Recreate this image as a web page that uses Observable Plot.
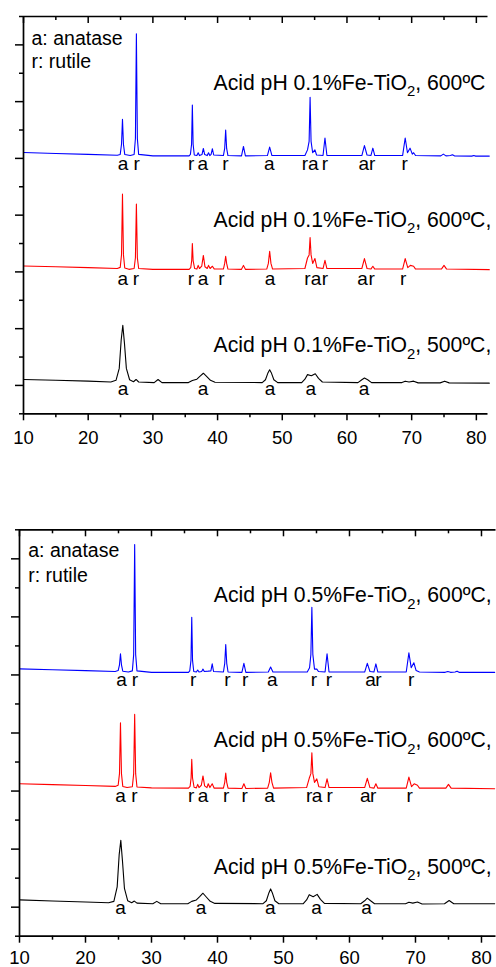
<!DOCTYPE html>
<html>
<head>
<meta charset="utf-8">
<script src="https://cdn.jsdelivr.net/npm/d3@7"></script>
<script src="https://cdn.jsdelivr.net/npm/@observablehq/plot@0.6"></script>
<style>
  html, body { margin: 0; padding: 0; background: #fff; }
  body { width: 496px; height: 967px; overflow: hidden; position: relative; font-family: "Liberation Sans", Arial, sans-serif; }
  #p1 { position: absolute; left: 0; top: 0; }
  #p2 { position: absolute; left: 0; top: 460px; }
  svg { overflow: hidden; }
</style>
</head>
<body>
<div id="p1"></div>
<div id="p2"></div>
<script>
// ---------- tick values ----------
const xMajorTicks = [10, 20, 30, 40, 50, 60, 70, 80];
const xMinorTicks = [15, 25, 35, 45, 55, 65, 75];
const yMajorTicks = [1, 3, 5, 7, 9, 11, 13];
const yMinorTicks = [0, 2, 4, 6, 8, 10, 12, 14];

// ---------- series: [2theta, offset intensity (a.u.)] ----------
// Panel 1 : 0.1% Fe-TiO2
const fe01_600_blue = [[10,9.21],[15,9.17],[20,9.14],[24.5,9.11],
 [24.95,9.14],[25.15,9.5],[25.3,10.38],[25.45,9.5],[25.65,9.14],[26.5,9.1],
 [27.1,9.14],[27.3,9.7],[27.45,13.39],[27.6,9.7],[27.8,9.14],[30,9.09],[35.6,9.09],
 [35.8,9.14],[35.98,9.5],[36.1,10.88],[36.22,9.5],[36.4,9.12],
 [36.8,9.1],[37.0,9.2],[37.2,9.1],[37.6,9.14],[37.8,9.35],[38.0,9.14],[38.4,9.1],[38.6,9.2],[38.8,9.1],[39.0,9.14],[39.2,9.34],[39.4,9.12],
 [40.9,9.1],[41.1,9.35],[41.25,10.0],[41.4,9.35],[41.6,9.1],
 [43.7,9.09],[44.0,9.42],[44.3,9.09],[47.7,9.1],[48.05,9.40],[48.4,9.1],
 [53.5,9.1],[53.9,9.3],[54.15,9.6],[54.3,11.15],[54.45,9.6],[54.7,9.2],[55.05,9.3],[55.3,9.12],
 [56.3,9.1],[56.6,9.72],[56.9,9.1],[62.3,9.1],[62.7,9.45],[63.1,9.12],[63.7,9.1],[64.0,9.36],[64.3,9.1],
 [68.6,9.1],[69.0,9.72],[69.35,9.2],[69.75,9.36],[70.1,9.15],[70.3,9.2],[70.6,9.1],
 [74.5,9.09],[74.9,9.15],[75.3,9.09],[76.0,9.1],[76.3,9.13],[76.6,9.09],[79.3,9.08],[79.6,9.1],[79.9,9.08],[82,9.08]];
const fe01_600_red = [[10,5.21],[15,5.18],[20,5.15],[24.5,5.12],
 [24.95,5.16],[25.15,5.6],[25.3,7.74],[25.45,5.6],[25.65,5.14],[26.3,5.09],
 [27.1,5.12],[27.3,5.5],[27.45,7.39],[27.6,5.5],[27.8,5.12],[30,5.09],[35.6,5.09],
 [35.85,5.15],[36.0,5.4],[36.1,6.0],[36.22,5.4],[36.45,5.12],
 [36.8,5.1],[37.0,5.23],[37.2,5.12],[37.55,5.2],[37.8,5.58],[38.05,5.18],[38.4,5.12],[38.6,5.23],[38.85,5.12],[39.2,5.2],[39.5,5.1],
 [40.9,5.1],[41.1,5.3],[41.25,5.55],[41.4,5.3],[41.6,5.1],
 [43.7,5.09],[44.0,5.23],[44.3,5.09],[47.6,5.1],[47.85,5.3],[48.05,5.73],[48.25,5.3],[48.5,5.1],
 [53.5,5.12],[53.9,5.49],[54.15,5.6],[54.3,6.21],[54.45,5.6],[54.7,5.3],[55.05,5.47],[55.35,5.15],
 [56.3,5.12],[56.6,5.41],[56.9,5.12],[62.3,5.12],[62.7,5.47],[63.1,5.12],[63.7,5.1],[64.0,5.2],[64.3,5.1],
 [68.6,5.1],[69.0,5.47],[69.4,5.15],[69.8,5.23],[70.3,5.2],[70.6,5.1],
 [74.6,5.1],[75.0,5.23],[75.4,5.1],[82,5.08]];
const fe01_500_black = [[10,1.21],[15,1.18],[20,1.15],[23.5,1.12],
 [24.3,1.18],[24.8,1.6],[25.1,2.6],[25.35,3.12],[25.6,2.5],[25.9,1.6],[26.4,1.2],[27.0,1.13],[27.4,1.21],[27.8,1.12],
 [30.2,1.1],[30.8,1.21],[31.4,1.1],[35.5,1.1],[36.1,1.17],[36.8,1.22],[37.3,1.33],[37.8,1.43],[38.3,1.32],[38.9,1.18],[39.6,1.11],
 [46.9,1.1],[47.4,1.2],[47.8,1.45],[48.05,1.55],[48.3,1.45],[48.7,1.2],[49.3,1.1],
 [53.0,1.1],[53.5,1.22],[53.9,1.38],[54.5,1.34],[55.1,1.41],[55.6,1.25],[56.2,1.12],
 [61.7,1.1],[62.3,1.2],[62.7,1.26],[63.2,1.2],[63.8,1.1],
 [68.5,1.1],[69.0,1.15],[69.6,1.12],[70.3,1.15],[71.0,1.09],[74.4,1.09],[75.1,1.15],[75.8,1.09],[82,1.08]];

// Panel 2 : 0.5% Fe-TiO2
const fe05_600_blue = [[10,9.21],[15,9.18],[20,9.15],[24.5,9.12],
 [24.95,9.15],[25.15,9.35],[25.3,9.73],[25.45,9.35],[25.65,9.13],[26.5,9.1],
 [27.1,9.14],[27.3,9.7],[27.45,13.49],[27.6,9.7],[27.8,9.14],[30,9.09],[35.6,9.09],
 [35.8,9.14],[35.98,9.5],[36.1,10.99],[36.22,9.5],[36.4,9.12],
 [36.8,9.1],[37.0,9.17],[37.2,9.1],[37.6,9.12],[37.8,9.2],[38.0,9.12],[38.6,9.13],[39.0,9.14],[39.2,9.38],[39.4,9.12],
 [40.9,9.1],[41.1,9.4],[41.25,10.05],[41.4,9.4],[41.6,9.1],
 [43.7,9.09],[44.0,9.40],[44.3,9.09],[47.7,9.1],[48.05,9.27],[48.4,9.1],
 [53.6,9.1],[53.95,9.25],[54.15,9.7],[54.3,11.33],[54.45,9.7],[54.7,9.2],[55.05,9.2],[55.3,9.12],
 [56.3,9.1],[56.6,9.73],[56.9,9.1],[62.3,9.1],[62.7,9.40],[63.1,9.12],[63.7,9.1],[64.0,9.38],[64.3,9.1],
 [68.6,9.1],[69.0,9.76],[69.35,9.25],[69.75,9.42],[70.1,9.15],[70.6,9.1],
 [74.5,9.09],[74.9,9.12],[75.3,9.09],[76.0,9.1],[76.3,9.13],[76.6,9.09],[82,9.09]];
const fe05_600_red = [[10,5.25],[15,5.22],[20,5.19],[24.5,5.16],
 [24.95,5.2],[25.15,5.6],[25.3,7.35],[25.45,5.6],[25.65,5.16],[26.3,5.12],
 [27.1,5.15],[27.3,5.6],[27.45,7.64],[27.6,5.6],[27.8,5.14],[30,5.11],[35.6,5.1],
 [35.85,5.16],[36.0,5.45],[36.1,6.09],[36.22,5.45],[36.45,5.13],
 [36.8,5.11],[37.0,5.23],[37.2,5.12],[37.55,5.2],[37.8,5.52],[38.05,5.18],[38.4,5.12],[38.6,5.25],[38.85,5.12],[39.2,5.25],[39.5,5.1],
 [40.9,5.1],[41.1,5.3],[41.25,5.62],[41.4,5.3],[41.6,5.1],
 [43.7,5.09],[44.0,5.25],[44.3,5.09],[47.6,5.1],[47.85,5.3],[48.05,5.63],[48.25,5.3],[48.5,5.1],
 [53.5,5.12],[53.9,5.44],[54.15,5.6],[54.3,6.32],[54.45,5.6],[54.7,5.3],[55.05,5.42],[55.35,5.15],
 [56.3,5.12],[56.6,5.42],[56.9,5.12],[62.3,5.12],[62.7,5.44],[63.1,5.12],[63.7,5.1],[64.0,5.25],[64.3,5.1],
 [68.6,5.1],[69.0,5.48],[69.4,5.15],[69.8,5.25],[70.3,5.2],[70.6,5.1],
 [72.5,5.1],[74.6,5.1],[75.0,5.23],[75.4,5.1],[82,5.08]];
const fe05_500_black = [[10,1.25],[15,1.21],[20,1.18],[23.5,1.15],
 [24.3,1.2],[24.8,1.7],[25.1,2.8],[25.35,3.30],[25.6,2.6],[25.9,1.65],[26.4,1.22],[27.0,1.15],[27.4,1.21],[27.8,1.14],
 [30.2,1.12],[30.8,1.2],[31.4,1.12],[35.5,1.12],[36.1,1.2],[36.8,1.25],[37.3,1.36],[37.8,1.48],[38.3,1.35],[38.9,1.2],[39.6,1.13],
 [46.9,1.12],[47.4,1.22],[47.8,1.5],[48.05,1.63],[48.3,1.5],[48.7,1.22],[49.3,1.12],
 [53.0,1.12],[53.5,1.25],[53.9,1.43],[54.5,1.36],[55.1,1.44],[55.6,1.27],[56.2,1.13],
 [61.7,1.12],[62.3,1.22],[62.7,1.31],[63.2,1.22],[63.8,1.12],
 [68.5,1.12],[69.0,1.17],[69.6,1.14],[70.3,1.18],[71.0,1.11],[74.4,1.12],[75.1,1.23],[75.8,1.12],[82,1.12]];

// ---------- phase labels under peaks: [2theta, letter] ----------
const fe01_600_blue_phases = [[25.4,"a"],[27.5,"r"],[35.9,"r"],[37.7,"a"],[41.2,"r"],[48.0,"a"],[53.5,"r"],[54.8,"a"],[56.6,"r"],[62.6,"a"],[63.9,"r"],[68.9,"r"]];
const fe01_600_red_phases  = [[25.35,"a"],[27.36,"r"],[35.86,"r"],[37.76,"a"],[40.6,"r"],[48.1,"a"],[53.9,"r"],[55.2,"a"],[56.6,"r"],[62.4,"a"],[63.8,"r"],[68.7,"r"]];
const fe01_500_black_phases = [[25.4,"a"],[37.76,"a"],[48.1,"a"],[54.4,"a"],[62.65,"a"]];
const fe05_600_blue_phases = [[25.45,"a"],[27.47,"r"],[36.3,"r"],[41.5,"r"],[44.2,"r"],[48.3,"a"],[54.6,"r"],[56.9,"r"],[63.2,"a"],[64.4,"r"],[69.35,"r"]];
const fe05_600_red_phases  = [[25.3,"a"],[27.4,"r"],[36.0,"r"],[37.8,"a"],[41.3,"r"],[44.1,"r"],[47.9,"a"],[53.9,"r"],[55.1,"a"],[57.0,"r"],[62.4,"a"],[63.6,"r"],[69.1,"r"]];
const fe05_500_black_phases = [[25.3,"a"],[37.5,"a"],[48.0,"a"],[55.0,"a"],[62.6,"a"]];

// ---------- text ----------
const legendLines = ["a: anatase", "r: rutile"];
const panel1Names = ["Acid pH 0.1%Fe-TiO\u2082, 600ºC", "Acid pH 0.1%Fe-TiO\u2082, 600ºC,", "Acid pH 0.1%Fe-TiO\u2082, 500ºC,"];
const panel2Names = ["Acid pH 0.5%Fe-TiO\u2082, 600ºC,", "Acid pH 0.5%Fe-TiO\u2082, 600ºC,", "Acid pH 0.5%Fe-TiO\u2082, 500ºC,"];
const colors = ["#0000ff", "#ff0000", "#000000"];

function panel(cfg) {
  const {series, phases, names, phaseY, nameY, nameX, legendX, legendY, xMax,
         width, height, marginTop, marginBottom, marginLeft, marginRight, tickPadding} = cfg;
  const marks = [];
  series.forEach((s, i) => {
    marks.push(Plot.line(s, {x: d => d[0], y: d => d[1], stroke: colors[i], strokeWidth: 1.1}));
  });
  phases.forEach((p, i) => {
    marks.push(Plot.text(p, {x: d => d[0], y: phaseY[i], text: d => d[1], fontSize: 19, lineAnchor: "bottom", fill: "#000"}));
  });
  names.forEach((n, i) => {
    marks.push(Plot.text([n], {x: nameX, y: nameY[i], text: d => d, fontSize: 21.2, textAnchor: "start", lineAnchor: "bottom", fill: "#000", className: "series-name"}));
  });
  marks.push(Plot.text(legendLines, {x: legendX, y: (d, i) => legendY[i], text: d => d, fontSize: 19.5, textAnchor: "start", lineAnchor: "bottom", fill: "#000"}));
  // frame
  marks.push(Plot.ruleY([0, 14], {stroke: "#000", strokeWidth: 1.7}));
  marks.push(Plot.ruleX([10], {stroke: "#000", strokeWidth: 1.7}));
  // axes
  marks.push(Plot.axisX(xMinorTicks, {anchor: "bottom", tickSize: 4, fill: "none", label: null, strokeWidth: 1.5}));
  marks.push(Plot.axisX(xMajorTicks, {anchor: "bottom", tickSize: 7, tickPadding, label: null, strokeWidth: 1.5, fontSize: 18.5, fill: "#000"}));
  marks.push(Plot.axisX(xMinorTicks, {anchor: "bottom", frameAnchor: "top", tickSize: 4, fill: "none", label: null, strokeWidth: 1.5}));
  marks.push(Plot.axisX(xMajorTicks, {anchor: "bottom", frameAnchor: "top", tickSize: 7, fill: "none", label: null, strokeWidth: 1.5}));
  marks.push(Plot.axisY(yMinorTicks, {anchor: "left", tickSize: 4, fill: "none", label: null, strokeWidth: 1.5}));
  marks.push(Plot.axisY(yMajorTicks, {anchor: "left", tickSize: 8, fill: "none", label: null, strokeWidth: 1.5}));
  const svg = Plot.plot({
    width, height, marginTop, marginBottom, marginLeft, marginRight,
    x: {domain: [10, xMax]},
    y: {domain: [0, 14]},
    style: {fontFamily: "'Liberation Sans', Arial, sans-serif", fontSize: "19px", color: "#000", background: "transparent", overflow: "hidden"},
    marks
  });
  // real subscript for the "2" of TiO2
  d3.select(svg).selectAll("text").each(function () {
    const t = this.textContent;
    const k = t.indexOf("\u2082");
    if (k < 0) return;
    const sel = d3.select(this);
    sel.text(null);
    sel.append("tspan").text(t.slice(0, k));
    sel.append("tspan").attr("font-size", "0.7em").attr("dy", "6.3").text("2");
    sel.append("tspan").attr("dy", "-6.3").text(t.slice(k + 1));
  });
  return svg;
}

document.getElementById("p1").appendChild(panel({
  series: [fe01_600_blue, fe01_600_red, fe01_500_black],
  phases: [fe01_600_blue_phases, fe01_600_red_phases, fe01_500_black_phases],
  names: panel1Names,
  phaseY: [8.59, 4.55, 0.68],
  nameY: [11.41, 6.59, 2.17],
  nameX: 39.37,
  legendX: 11.24,
  legendY: [13.0, 12.18],
  xMax: 81.8,
  width: 496, height: 460, marginTop: 16, marginBottom: 46.7, marginLeft: 23, marginRight: 8.5, tickPadding: 10
}));

document.getElementById("p2").appendChild(panel({
  series: [fe05_600_blue, fe05_600_red, fe05_500_black],
  phases: [fe05_600_blue_phases, fe05_600_red_phases, fe05_500_black_phases],
  names: panel2Names,
  phaseY: [8.61, 4.62, 0.75],
  nameY: [11.5, 6.51, 2.15],
  nameX: 39.44,
  legendX: 11.32,
  legendY: [13.08, 12.19],
  xMax: 82.2,
  width: 496, height: 507, marginTop: 69.3, marginBottom: 31.3, marginLeft: 19, marginRight: 0.5, tickPadding: 7.5
}));
</script>
</body>
</html>
